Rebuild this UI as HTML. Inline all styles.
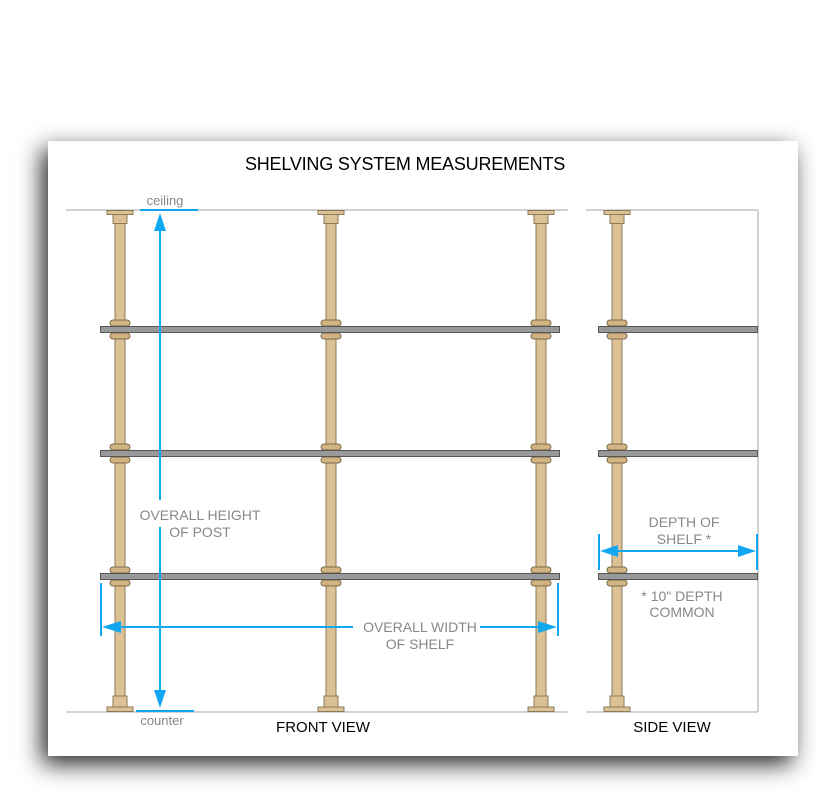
<!DOCTYPE html>
<html><head><style>
html,body{margin:0;padding:0;background:#fff;}
.card{position:absolute;left:48px;top:141px;width:750px;height:615px;background:#fff;box-shadow:-6px 8px 22px rgba(0,0,0,0.85);}
svg{position:absolute;left:0;top:0;}
text{font-family:"Liberation Sans",sans-serif;}
</style></head><body>
<div class="card"></div>
<svg width="818" height="800" viewBox="0 0 818 800">
<defs>
<g id="post">
<rect x="-5" y="222" width="10" height="476" fill="#dcc195" stroke="#8a7a5a" stroke-width="1"/>
<rect x="-13" y="210.5" width="26" height="4" fill="#dcc195" stroke="#8a7a5a"/>
<rect x="-7" y="214.5" width="14" height="9" fill="#dcc195" stroke="#8a7a5a"/>
<rect x="-7" y="696" width="14" height="11" fill="#dcc195" stroke="#8a7a5a"/>
<rect x="-13" y="707" width="26" height="4.5" fill="#dcc195" stroke="#8a7a5a"/>
<rect x="-10" y="320" width="20" height="6" rx="3" fill="#d2b482" stroke="#7a6a4a"/>
<rect x="-10" y="333" width="20" height="6" rx="3" fill="#d2b482" stroke="#7a6a4a"/>
<rect x="-10" y="444" width="20" height="6" rx="3" fill="#d2b482" stroke="#7a6a4a"/>
<rect x="-10" y="457" width="20" height="6" rx="3" fill="#d2b482" stroke="#7a6a4a"/>
<rect x="-10" y="567" width="20" height="6" rx="3" fill="#d2b482" stroke="#7a6a4a"/>
<rect x="-10" y="580" width="20" height="6" rx="3" fill="#d2b482" stroke="#7a6a4a"/>
</g>
</defs>
<text x="405" y="170" font-size="18" text-anchor="middle" fill="#000" letter-spacing="-0.2">SHELVING SYSTEM MEASUREMENTS</text>
<g stroke="#c4c4c4" stroke-width="1.5" fill="none">
<line x1="66" y1="210" x2="568" y2="210"/>
<line x1="586" y1="210" x2="758" y2="210"/>
<line x1="66" y1="712" x2="568" y2="712"/>
<line x1="586" y1="712" x2="758" y2="712"/>
<line x1="758" y1="210" x2="758" y2="712"/>
</g>
<use href="#post" x="120"/>
<use href="#post" x="331"/>
<use href="#post" x="541"/>
<use href="#post" x="617"/>
<g fill="#999" stroke="#555" stroke-width="1">
<rect x="100.5" y="326.5" width="459" height="6"/>
<rect x="100.5" y="450.5" width="459" height="6"/>
<rect x="100.5" y="573.5" width="459" height="6"/>
<rect x="598.5" y="326.5" width="159" height="6"/>
<rect x="598.5" y="450.5" width="159" height="6"/>
<rect x="598.5" y="573.5" width="159" height="6"/>
</g>
<g stroke="#12a8f0" stroke-width="2" fill="none">
<line x1="140" y1="210" x2="198" y2="210"/>
<line x1="136" y1="711" x2="194" y2="711"/>
<line x1="160" y1="228" x2="160" y2="500"/>
<line x1="160" y1="527" x2="160" y2="694"/>
<line x1="101" y1="583" x2="101" y2="636"/>
<line x1="558" y1="583" x2="558" y2="636"/>
<line x1="118" y1="627" x2="353" y2="627"/>
<line x1="480" y1="627" x2="542" y2="627"/>
<line x1="599" y1="534" x2="599" y2="570"/>
<line x1="757" y1="534" x2="757" y2="570"/>
<line x1="615" y1="551" x2="741" y2="551"/>
</g>
<g fill="#12a8f0">
<polygon points="160,213 154,231 166,231"/>
<polygon points="160,708 154,690 166,690"/>
<polygon points="102,627 121,621 121,633"/>
<polygon points="557,627 538,621 538,633"/>
<polygon points="600,551 618,545 618,557"/>
<polygon points="756,551 738,545 738,557"/>
</g>
<g fill="#888" font-size="14" text-anchor="middle">
<text x="165" y="205" font-size="13">ceiling</text>
<text x="162" y="725" font-size="13">counter</text>
<text x="200" y="520">OVERALL HEIGHT</text>
<text x="200" y="537">OF POST</text>
<text x="420" y="632">OVERALL WIDTH</text>
<text x="420" y="649">OF SHELF</text>
<text x="684" y="527">DEPTH OF</text>
<text x="684" y="544">SHELF *</text>
<text x="682" y="601">* 10" DEPTH</text>
<text x="682" y="617">COMMON</text>
</g>
<text x="323" y="732" font-size="15" text-anchor="middle" fill="#000">FRONT VIEW</text>
<text x="672" y="732" font-size="15" text-anchor="middle" fill="#000">SIDE VIEW</text>
</svg>
</body></html>
